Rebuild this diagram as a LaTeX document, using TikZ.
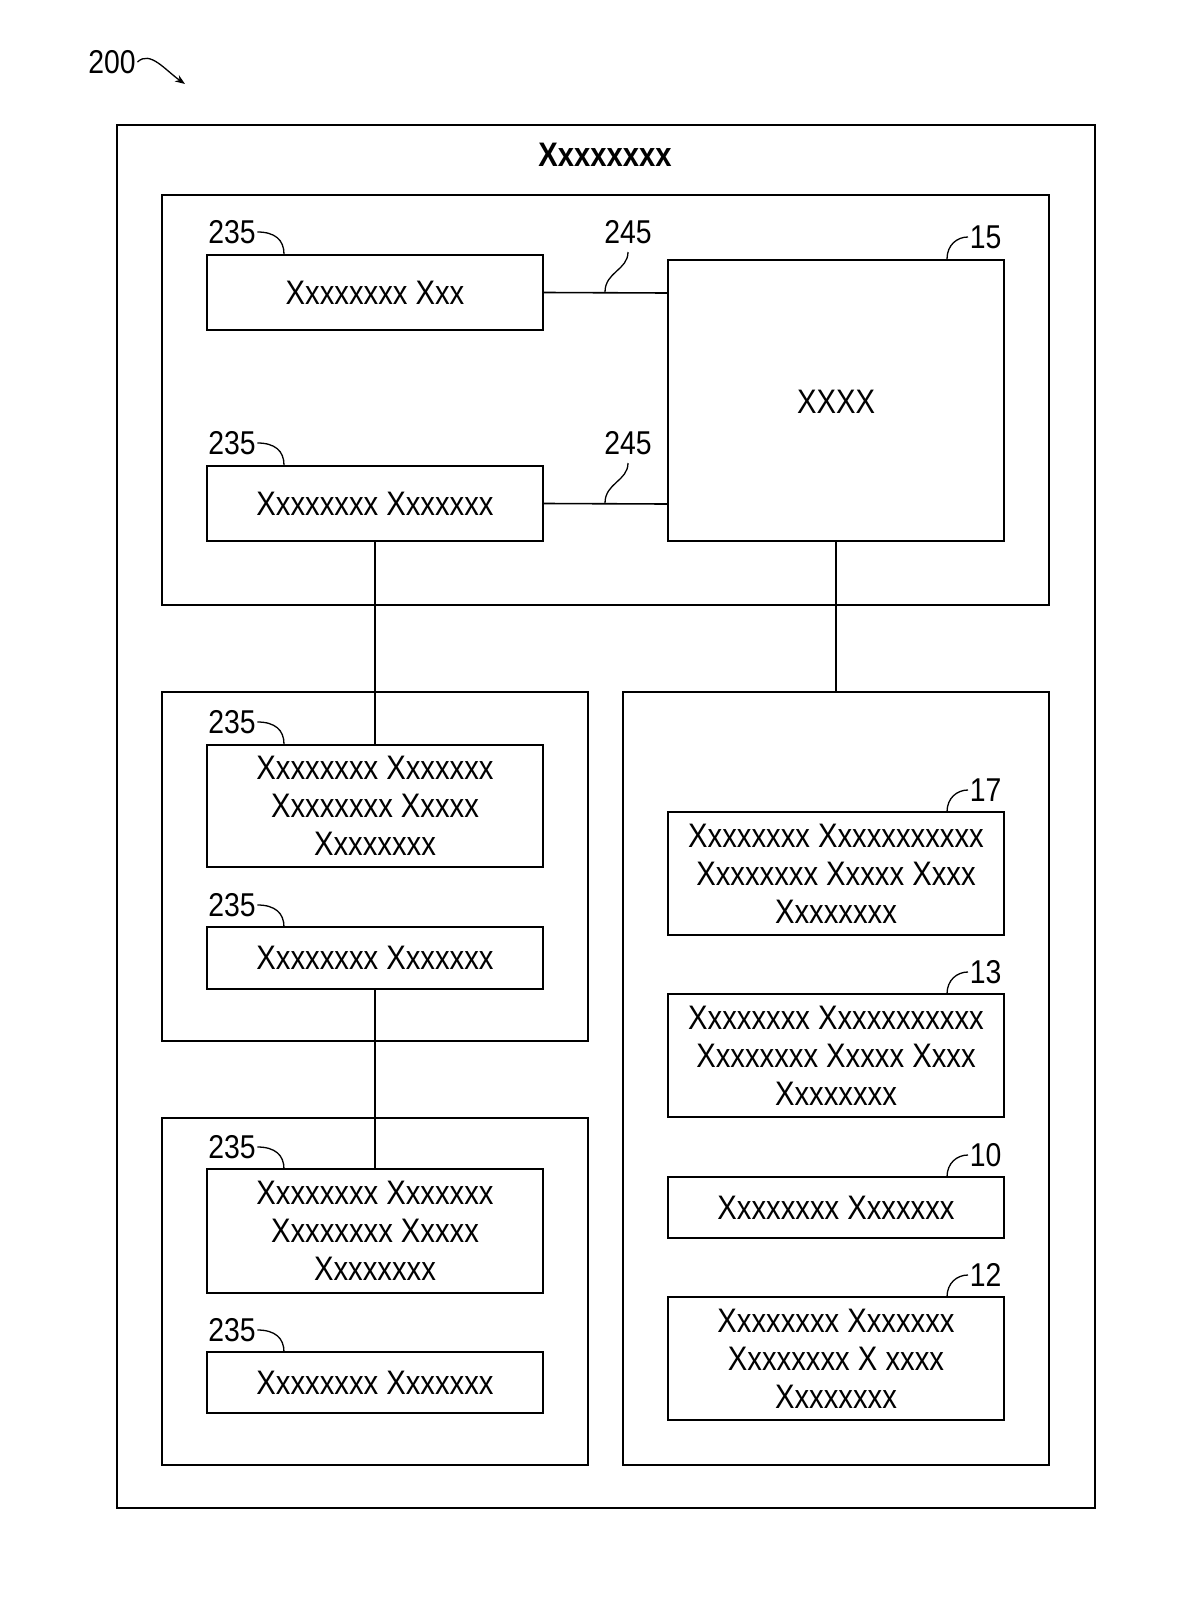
\documentclass[tikz,border=0pt]{standalone}
\usepackage{fontspec}
\usetikzlibrary{arrows.meta}
\setmainfont{Liberation Sans}[FakeStretch=0.86]
\begin{document}
\begin{tikzpicture}[x=1pt,y=-1pt,line width=1.6pt,
 box/.style={draw,align=center,font=\fontsize{34}{38}\selectfont,inner sep=0pt},
 lab/.style={font=\fontsize{33}{33}\selectfont,inner sep=1pt},
 sq/.style={line width=1.3pt}]
\useasboundingbox (0,0) rectangle (1200,1600);
\node[lab] (n200) at (112,62) {200};
\coordinate (a200) at (185,84);
\draw[sq,-{Stealth[length=10pt]}] (n200.east) .. controls (150,50) and (165,70) .. (a200);
\draw (117,125) rectangle (1095,1508);
\node[font=\bfseries\fontsize{34}{34}\selectfont] (title) at (605,155) {Xxxxxxxx};
\draw (162,195) rectangle (1049,605);
\draw (162,692) rectangle (588,1041);
\draw (162,1118) rectangle (588,1465);
\draw (623,692) rectangle (1049,1465);
\newcommand\bx[6]{\node[box,minimum width={#4-#2},minimum height={#5-#3}] (#1) at ({(#2+#4)/2},{(#3+#5)/2}) {#6};}
\bx{A}{207}{255}{543}{330}{Xxxxxxxx Xxx}
\bx{B}{207}{466}{543}{541}{Xxxxxxxx Xxxxxxx}
\bx{X}{668}{260}{1004}{541}{}
\node[font=\fontsize{34}{34}\selectfont] (xt) at (836,402) {XXXX};
\bx{C}{207}{745}{543}{867}{Xxxxxxxx Xxxxxxx\\Xxxxxxxx Xxxxx\\Xxxxxxxx}
\bx{D}{207}{927}{543}{989}{Xxxxxxxx Xxxxxxx}
\bx{E}{207}{1169}{543}{1293}{Xxxxxxxx Xxxxxxx\\Xxxxxxxx Xxxxx\\Xxxxxxxx}
\bx{F}{207}{1352}{543}{1413}{Xxxxxxxx Xxxxxxx}
\bx{G}{668}{812}{1004}{935}{Xxxxxxxx Xxxxxxxxxxx\\Xxxxxxxx Xxxxx Xxxx\\Xxxxxxxx}
\bx{H}{668}{994}{1004}{1117}{Xxxxxxxx Xxxxxxxxxxx\\Xxxxxxxx Xxxxx Xxxx\\Xxxxxxxx}
\bx{I}{668}{1177}{1004}{1238}{Xxxxxxxx Xxxxxxx}
\bx{J}{668}{1297}{1004}{1420}{Xxxxxxxx Xxxxxxx\\Xxxxxxxx X xxxx\\Xxxxxxxx}
\coordinate (xa) at (668,293); \coordinate (xb) at (668,504);
\draw (A.east) -- (xa);
\draw (B.east) -- (xb);
\draw (B.south) -- (C.north);
\draw (D.south) -- (E.north);
\coordinate (rt) at (836,692);
\draw (X.south) -- (rt);
\foreach \n/\y in {a/232,b/443,c/722,d/905,e/1147,f/1330}{
 \node[lab] (l\n) at (232,\y) {235};
 \draw[sq] (l\n.east) .. controls (275,\y) and (284,\y+8) .. (284,\y+22);
}
\foreach \n/\y in {a/232,b/443}{
 \node[lab] (m\n) at (628,\y) {245};
 \draw[sq] (628,\y+20) .. controls (628,\y+38) and (605,\y+40) .. (605,\y+60);
}
\foreach \n/\t/\y in {g/15/237,h/17/790,i/13/972,j/10/1155,k/12/1275}{
 \node[lab,anchor=west] (r\n) at (968,\y) {\t};
 \draw[sq] (r\n.west) .. controls (957,\y) and (947,\y+8) .. (947,\y+22);
}
\end{tikzpicture}
\end{document}
